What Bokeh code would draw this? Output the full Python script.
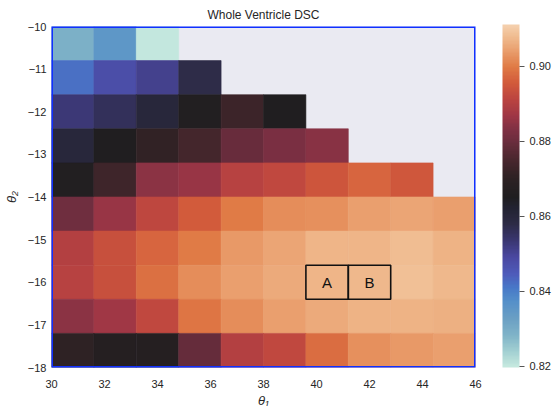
import numpy as np
from bokeh.plotting import figure
from bokeh.models import (ColumnDataSource, LinearColorMapper, ColorBar, FixedTicker,
                          Range1d, PrintfTickFormatter, BoxAnnotation)
from bokeh.transform import transform
from bokeh.embed import file_html
from bokeh.resources import INLINE

nan = float("nan")

# cell centres
theta1 = [30.8, 32.4, 34.0, 35.6, 37.2, 38.8, 40.4, 42.0, 43.6, 45.2]
theta2 = [-10.4, -11.2, -12.0, -12.8, -13.6, -14.4, -15.2, -16.0, -16.8, -17.6]
cell_w = 1.6
cell_h = 0.8

# Whole ventricle DSC, rows follow theta2 (top to bottom), columns follow theta1
dsc = [
    [0.829, 0.835, 0.8200, nan, nan, nan, nan, nan, nan, nan],
    [0.842, 0.8475, 0.851, 0.8575, nan, nan, nan, nan, nan, nan],
    [0.853, 0.856, 0.860, 0.866, 0.8725, 0.865, nan, nan, nan, nan],
    [0.860, 0.865, 0.871, 0.874, 0.8795, 0.8825, 0.884, nan, nan, nan],
    [0.866, 0.873, 0.8845, 0.886, 0.8905, 0.892, 0.8945, 0.897, 0.895, nan],
    [0.8805, 0.886, 0.8915, 0.8955, 0.900, 0.902, 0.9025, 0.904, 0.9048, 0.904],
    [0.890, 0.8935, 0.897, 0.900, 0.9035, 0.905, 0.907, 0.907, 0.908, 0.9068],
    [0.8905, 0.8935, 0.8985, 0.902, 0.904, 0.9055, 0.907, 0.9075, 0.9085, 0.9072],
    [0.8845, 0.887, 0.892, 0.899, 0.902, 0.904, 0.9055, 0.9068, 0.9068, 0.9063],
    [0.870, 0.867, 0.867, 0.879, 0.890, 0.892, 0.898, 0.9025, 0.9035, 0.904],
]

box_labels = ["A", "B"]
box_theta1 = [40.4, 42.0]
box_theta2 = [-16.0, -16.0]

x_ticks = [30, 32, 34, 36, 38, 40, 42, 44, 46]
y_ticks = [-18, -17, -16, -15, -14, -13, -12, -11, -10]
cbar_ticks = [0.82, 0.84, 0.86, 0.88, 0.90]
vmin, vmax = 0.8196, 0.9111

# icefire-like colour ramp (value anchor -> colour)
ramp_vals = [0.8196, 0.8237, 0.828, 0.8326, 0.837, 0.8408, 0.8445, 0.849, 0.8535,
             0.858, 0.8625, 0.865, 0.8707, 0.876, 0.880, 0.883, 0.8867, 0.8912,
             0.8956, 0.900, 0.9045, 0.908, 0.9111]
ramp_cols = ["#C6E9DF", "#A3D0D2", "#80B4C8", "#6A9FC4", "#5590C9", "#4878C8",
             "#4E5BBA", "#4A48A0", "#3A3670", "#2D2B45", "#222230", "#1F1E20",
             "#302224", "#4F2831", "#6B2D3E", "#7E3043", "#9E3645", "#BB4440",
             "#D25A3B", "#E07B46", "#EAA170", "#F0BC90", "#F5D0AE"]


def hex2rgb(h):
    return [int(h[i:i + 2], 16) for i in (1, 3, 5)]


rgb = np.array([hex2rgb(c) for c in ramp_cols], dtype=float)
grid = np.linspace(vmin, vmax, 256)
palette = []
for g in grid:
    r = np.interp(g, ramp_vals, rgb[:, 0])
    gg = np.interp(g, ramp_vals, rgb[:, 1])
    b = np.interp(g, ramp_vals, rgb[:, 2])
    palette.append("#%02x%02x%02x" % (int(round(r)), int(round(gg)), int(round(b))))

xs, ys, vs = [], [], []
for i, yc in enumerate(theta2):
    for j, xc in enumerate(theta1):
        v = dsc[i][j]
        if v == v:
            xs.append(xc)
            ys.append(yc)
            vs.append(v)
src = ColumnDataSource(dict(x=xs, y=ys, v=vs))

mapper = LinearColorMapper(palette=palette, low=vmin, high=vmax)

FONT = "Liberation Sans"
TXT = "#262626"
FW, FH = 424, 341

p = figure(frame_width=FW, frame_height=FH, output_backend="svg", toolbar_location=None,
           x_range=Range1d(30, 46), y_range=Range1d(-18, -10),
           min_border_left=40, min_border_top=10, min_border_bottom=36, min_border_right=78,
           background_fill_color="#EAEAF2", border_fill_color="white")

p.rect(x="x", y="y", width=cell_w, height=cell_h, source=src,
       fill_color=transform("v", mapper), line_color=transform("v", mapper), line_width=0.6)

bsrc = ColumnDataSource(dict(x=box_theta1, y=box_theta2, t=box_labels))
p.rect(x="x", y="y", width=cell_w, height=cell_h, source=bsrc, fill_color=None,
       line_color="#111111", line_width=1.6)
p.text(x="x", y="y", text="t", source=bsrc, text_align="center", text_baseline="middle",
       text_font_size="15px", text_color="#111111", text_font={"value": FONT})

p.grid.visible = False
p.outline_line_color = None
frame_box = BoxAnnotation(fill_alpha=0, fill_color=None, line_color="#1030ff",
                          line_width=3, line_alpha=1.0, level="overlay")
p.add_layout(frame_box)

p.title.text = "Whole Ventricle DSC"
p.title.align = "center"
p.title.text_font = FONT
p.title.text_font_size = "12px"
p.title.text_font_style = "normal"
p.title.text_color = TXT
p.title.standoff = 10

for ax in (p.xaxis[0], p.yaxis[0]):
    ax.axis_line_color = None
    ax.major_tick_line_color = None
    ax.minor_tick_line_color = None
    ax.major_tick_out = 0
    ax.major_tick_in = 0
    ax.minor_tick_out = 0
    ax.minor_tick_in = 0
    ax.major_label_text_font = FONT
    ax.major_label_text_font_size = "11px"
    ax.major_label_text_color = TXT
    ax.axis_label_text_font = FONT
    ax.axis_label_text_font_size = "13px"
    ax.axis_label_text_font_style = "italic"
    ax.axis_label_text_color = TXT

p.xaxis.major_label_standoff = 12
p.yaxis.major_label_standoff = 5
p.xaxis.ticker = FixedTicker(ticks=x_ticks)
p.yaxis.ticker = FixedTicker(ticks=y_ticks)
p.yaxis.major_label_overrides = {t: ("\u2212%d" % (-t)) for t in y_ticks}
p.xaxis.axis_label = "\u03b8\u2081"
p.yaxis.axis_label = "\u03b8\u2082"
p.xaxis.axis_label_standoff = 2
p.yaxis.axis_label_standoff = 6

cbar = ColorBar(color_mapper=mapper, location=(451, 0), width=17, height=343,
                margin=0, padding=0,
                ticker=FixedTicker(ticks=cbar_ticks),
                formatter=PrintfTickFormatter(format="%.2f"),
                major_tick_out=5, major_tick_in=0, major_tick_line_color="#555555",
                minor_tick_line_color=None,
                label_standoff=5, major_label_text_font=FONT,
                major_label_text_font_size="11px", major_label_text_color=TXT,
                background_fill_color=None, border_line_color=None, bar_line_color=None)
p.add_layout(cbar, "center")

open("out.html", "w").write(file_html(p, INLINE))
